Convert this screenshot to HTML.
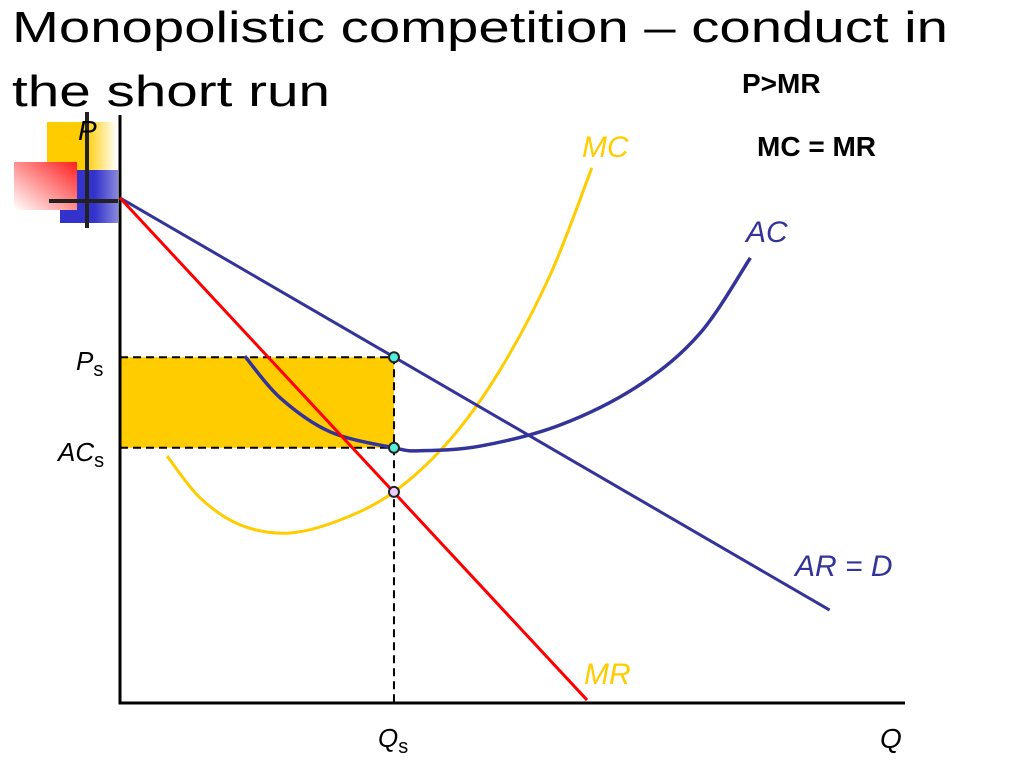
<!DOCTYPE html>
<html><head><meta charset="utf-8"><style>
body{margin:0;background:#fff;width:1024px;height:768px;overflow:hidden}
svg{display:block}
text{font-family:"Liberation Sans","DejaVu Sans",sans-serif}
</style></head><body>
<svg width="1024" height="768">
<defs>
<linearGradient id="gy" x1="0" x2="1"><stop offset="0.55" stop-color="#ffcc00"/><stop offset="1" stop-color="#fff"/></linearGradient>
<linearGradient id="gr" x1="1" y1="0" x2="0" y2="1"><stop offset="0" stop-color="#ff2020"/><stop offset="1" stop-color="#fff"/></linearGradient>
<linearGradient id="gb" x1="0" x2="1"><stop offset="0.6" stop-color="#3333cc"/><stop offset="1" stop-color="#8888dd"/></linearGradient>
</defs>
<g>
<rect x="47" y="122" width="70" height="80" fill="url(#gy)"/>
<rect x="60" y="170" width="58" height="53" fill="url(#gb)"/>
<rect x="14" y="162" width="63" height="48" fill="url(#gr)"/>
<line x1="87" y1="112" x2="87" y2="228" stroke="#222" stroke-width="4"/>
<line x1="49" y1="201" x2="118" y2="201" stroke="#222" stroke-width="4"/>
</g>
<text x="12" y="42" font-size="44" textLength="936" lengthAdjust="spacingAndGlyphs">Monopolistic competition  – conduct in</text>
<text x="12" y="106" font-size="44" textLength="318" lengthAdjust="spacingAndGlyphs">the short run</text>
<text x="742" y="93" font-size="28" font-weight="bold">P&gt;MR</text>
<text x="757" y="156" font-size="28" font-weight="bold">MC = MR</text>
<g id="plot"></g>
</svg>
<script>
const demandQ=[0,90.4], demandP=[85.9,15.8];
const mrQ=[0,59.5], mrP=[85.9,0.5];
const mcQ=[6.0,10.2,15.3,21.4,28.0,34.9,42.0,48.4,54.8,60.1];
const mcP=[42.0,34.9,30.3,28.9,31.1,35.9,44.7,56.6,72.8,91.0];
const acQ=[15.9,20.4,26.8,34.9,38.2,45.9,56.1,66.2,73.9,80.3];
const acP=[59.0,51.9,46.1,43.4,42.9,43.7,47.3,54.1,62.9,75.7];
const eqQ=[34.9], eqP=[58.8], eqAC=[43.4], eqMC=[35.9];
const X=q=>120+q*7.85, Y=p=>703-p*5.88;
const NS='http://www.w3.org/2000/svg', g=document.getElementById('plot');
function mk(t,a){const e=document.createElementNS(NS,t);for(const k in a)e.setAttribute(k,a[k]);g.appendChild(e);return e;}
function smooth(qs,ps){const pts=qs.map((q,i)=>[X(q),Y(ps[i])]);let d='M'+pts[0];for(let i=0;i<pts.length-1;i++){const p0=pts[i-1]||pts[i],p1=pts[i],p2=pts[i+1],p3=pts[i+2]||p2;d+=' C'+(p1[0]+(p2[0]-p0[0])/6)+','+(p1[1]+(p2[1]-p0[1])/6)+' '+(p2[0]-(p3[0]-p1[0])/6)+','+(p2[1]-(p3[1]-p1[1])/6)+' '+p2;}return d;}
let e;
e=mk('rect',{x:X(0),y:Y(eqP[0]),width:X(eqQ[0])-X(0),height:Y(eqAC[0])-Y(eqP[0]),fill:'#ffcc00'});


e=mk('path',{d:`M${X(0)},${Y(eqP[0])}H${X(eqQ[0])}V703M${X(0)},${Y(eqAC[0])}H${X(eqQ[0])}`,stroke:'#000','stroke-width':2,'stroke-dasharray':'8,5',fill:'none'});


e=mk('path',{d:'M120,115V703H905',stroke:'#000','stroke-width':3,fill:'none'});


e=mk('path',{d:smooth(mcQ,mcP),stroke:'#ffcc00','stroke-width':3,fill:'none'});


e=mk('path',{d:smooth(acQ,acP),stroke:'#333399','stroke-width':3.5,fill:'none'});


e=mk('line',{x1:X(demandQ[0]),y1:Y(demandP[0]),x2:X(demandQ[1]),y2:Y(demandP[1]),stroke:'#333399','stroke-width':3});


e=mk('line',{x1:X(mrQ[0]),y1:Y(mrP[0]),x2:X(mrQ[1]),y2:Y(mrP[1]),stroke:'#ff0000','stroke-width':3});


[[eqP,'#55eedd','point-price'],[eqAC,'#55eedd','point-ac'],[eqMC,'#eeccff','point-mc-mr']].forEach(([arr,c,n])=>{
 const el=mk('circle',{cx:X(eqQ[0]),cy:Y(arr[0]),r:5,fill:c,stroke:'#222','stroke-width':2});
 
 
});
const labels=[['MC',582,157,'#ffcc00'],['AC',746,242,'#333399'],['AR = D',795,576,'#333399'],['MR',584,684,'#ffcc00']];
labels.forEach(([t,x,y,c])=>{const el=mk('text',{x:x,y:y,'font-size':30,'font-style':'italic',fill:c});el.textContent=t;
 
 });
function sub(t,s,x,y,n){const el=mk('text',{x:x,y:y,'font-size':26});el.innerHTML='<tspan font-style="italic">'+t+'</tspan><tspan font-size="20" dy="6">'+s+'</tspan>';
 
 }
sub('P','s',76,370,'tick-ps');
sub('AC','s',58,461,'tick-acs');
sub('Q','s',378,747,'tick-qs');
e=mk('text',{x:880,y:748,'font-size':28,'font-style':'italic'});e.textContent='Q';


e=mk('text',{x:78,y:140,'font-size':28,'font-style':'italic'});e.textContent='P';


</script>
</body></html>
